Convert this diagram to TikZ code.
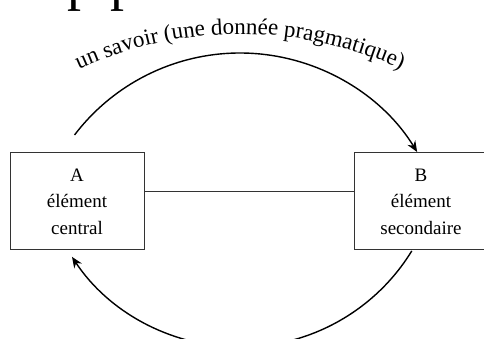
\documentclass[tikz,border=0pt]{standalone}
\usepackage{fontspec}
\setmainfont{Liberation Serif}
\usetikzlibrary{arrows.meta,decorations.text}
\tikzset{
  elembox/.style={draw=black!80, line width=1pt, minimum width=134pt, minimum height=97pt,
    inner sep=0pt, align=center, font=\fontsize{19}{26.5}\selectfont},
  link/.style={draw=black!80, line width=1pt},
  flow/.style={line width=1.4pt, -{Stealth[length=11pt,width=9pt]}},
  cut/.style={anchor=base west, inner sep=0pt, font=\fontsize{56}{60}\selectfont}
}
\begin{document}
\begin{tikzpicture}[x=1pt,y=1pt]
\useasboundingbox (0,0) rectangle (484,339);
\clip (0,0) rectangle (484,339);
% cut-off letters at the top edge
\node[cut] (p1) at (67,339.5) {p};
\node[cut] (p2) at (110.5,339.5) {p};
% boxes
\node[elembox] (A) at (77,137.5) {A\\élément\\central};
\node[elembox] (B) at (421,137.5) {B\\élément\\secondaire};
\draw[link] ([yshift=10pt]A.east) -- ([yshift=10pt]B.west);
% arc centres
\coordinate (ct) at (240,78);
\coordinate (cb) at (240,193.4);
\coordinate (cx) at (240,-82);
\coordinate (t1) at ([shift={(ct)}]142.7:208pt);
\coordinate (b1) at ([shift={(cb)}]-31.5:201.5pt);
% top arc A -> B
\draw[flow] (t1) arc[start angle=142.7, end angle=31.6, radius=208pt];
% bottom arc B -> A
\draw[flow] (b1) arc[start angle=-31.5, end angle=-146.5, radius=201.5pt];
% curved label
\coordinate (x1) at ([shift={(cx)}]115.5:387pt);
\path[decorate, decoration={text along path, text align=center,
  text format delimiters={|}{|},
  text={|\fontsize{23}{26}\selectfont|un savoir (une donnée pragmatique)}}]
  (x1) arc[start angle=115.5, end angle=64.5, radius=387pt];
\end{tikzpicture}
\end{document}
